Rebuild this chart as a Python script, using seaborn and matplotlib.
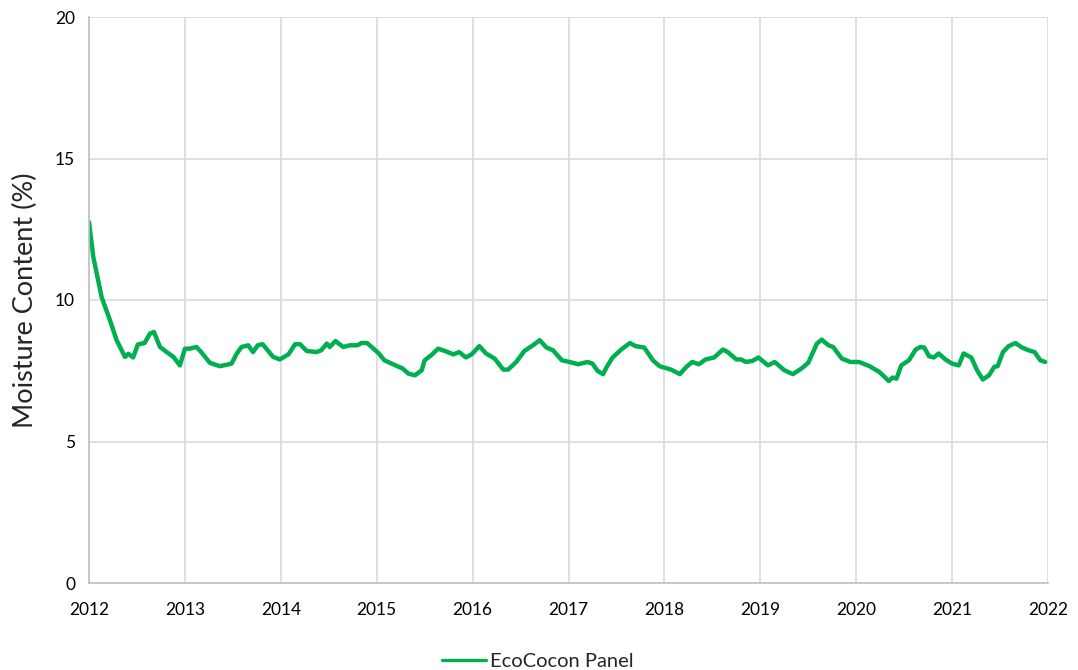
import matplotlib
matplotlib.use("Agg")
import matplotlib.pyplot as plt
import seaborn as sns
import pandas as pd

# Monitoring record of the panel: decimal year and moisture content (%)
years = [2012.000, 2012.045, 2012.132, 2012.219, 2012.288, 2012.375, 2012.410, 2012.460,
         2012.510, 2012.580, 2012.635, 2012.677, 2012.740, 2012.810, 2012.880, 2012.948,
         2013.000, 2013.050, 2013.120, 2013.170, 2013.260, 2013.365, 2013.486, 2013.540,
         2013.590, 2013.660, 2013.710, 2013.760, 2013.810, 2013.920, 2013.990, 2014.080,
         2014.150, 2014.200, 2014.270, 2014.370, 2014.420, 2014.480, 2014.510, 2014.570,
         2014.650, 2014.720, 2014.800, 2014.840, 2014.900, 2014.960, 2015.020, 2015.080,
         2015.170, 2015.270, 2015.330, 2015.400, 2015.470, 2015.500, 2015.570, 2015.640,
         2015.710, 2015.800, 2015.860, 2015.930, 2015.990, 2016.070, 2016.140, 2016.230,
         2016.320, 2016.370, 2016.455, 2016.540, 2016.630, 2016.700, 2016.770, 2016.840,
         2016.930, 2017.010, 2017.100, 2017.200, 2017.250, 2017.305, 2017.360, 2017.400,
         2017.460, 2017.550, 2017.640, 2017.700, 2017.790, 2017.880, 2017.950, 2018.070,
         2018.160, 2018.230, 2018.290, 2018.360, 2018.430, 2018.520, 2018.610, 2018.660,
         2018.750, 2018.800, 2018.850, 2018.920, 2018.980, 2019.080, 2019.150, 2019.250,
         2019.340, 2019.430, 2019.500, 2019.550, 2019.590, 2019.640, 2019.710, 2019.760,
         2019.850, 2019.940, 2020.030, 2020.140, 2020.240, 2020.340, 2020.380, 2020.420,
         2020.470, 2020.550, 2020.620, 2020.670, 2020.710, 2020.760, 2020.810, 2020.860,
         2020.930, 2021.000, 2021.070, 2021.120, 2021.200, 2021.260, 2021.320, 2021.385,
         2021.440, 2021.475, 2021.530, 2021.590, 2021.660, 2021.730, 2021.800, 2021.860,
         2021.920, 2021.970]
moisture = [12.75, 11.52, 10.10, 9.28, 8.58, 7.99, 8.10, 7.97,
            8.43, 8.48, 8.81, 8.87, 8.34, 8.16, 7.99, 7.69,
            8.28, 8.28, 8.34, 8.16, 7.78, 7.66, 7.75, 8.10,
            8.34, 8.40, 8.16, 8.40, 8.44, 7.99, 7.90, 8.08,
            8.44, 8.44, 8.20, 8.16, 8.22, 8.46, 8.34, 8.55,
            8.34, 8.40, 8.40, 8.48, 8.48, 8.30, 8.12, 7.87,
            7.73, 7.58, 7.40, 7.34, 7.52, 7.87, 8.05, 8.28,
            8.20, 8.08, 8.16, 7.97, 8.08, 8.37, 8.11, 7.93,
            7.54, 7.54, 7.81, 8.20, 8.40, 8.58, 8.32, 8.22,
            7.87, 7.81, 7.73, 7.81, 7.75, 7.49, 7.38, 7.64,
            7.97, 8.25, 8.48, 8.37, 8.32, 7.87, 7.66, 7.54,
            7.38, 7.64, 7.81, 7.73, 7.90, 7.97, 8.25, 8.16,
            7.90, 7.90, 7.81, 7.85, 7.97, 7.69, 7.81, 7.52,
            7.38, 7.58, 7.78, 8.16, 8.46, 8.60, 8.40, 8.34,
            7.93, 7.81, 7.81, 7.66, 7.46, 7.14, 7.26, 7.22,
            7.69, 7.87, 8.25, 8.34, 8.32, 8.01, 7.97, 8.11,
            7.90, 7.75, 7.69, 8.11, 7.97, 7.52, 7.19, 7.34,
            7.64, 7.66, 8.16, 8.37, 8.48, 8.32, 8.22, 8.16,
            7.87, 7.81]

series_name = "EcoCocon Panel"
x_ticks = list(range(2012, 2023))
y_ticks = [0, 5, 10, 15, 20]

df = pd.DataFrame({"Year": years, "Moisture": moisture, "Series": series_name})

sns.set_theme(style="white")
plt.rcParams["font.family"] = ["Lato", "DejaVu Sans"]

fig = plt.figure(figsize=(10.78, 6.70), dpi=100)
ax = fig.add_axes([89 / 1078, 1 - 583 / 670, (1048 - 89) / 1078, (583 - 17) / 670])

sns.lineplot(data=df, x="Year", y="Moisture", hue="Series",
             palette=["#00b050"], linewidth=3.2, ax=ax, legend=True)

ax.set_xlim(2012, 2022)
ax.set_ylim(0, 20)
ax.set_xticks(x_ticks)
ax.set_xticklabels([str(t) for t in x_ticks])
ax.set_yticks(y_ticks)
ax.set_yticklabels([str(t) for t in y_ticks])
ax.tick_params(axis="both", length=0, labelsize=12.5, colors="#000000")
ax.tick_params(axis="x", pad=14)
ax.tick_params(axis="y", pad=10)

ax.grid(True, color="#d9d9d9", linewidth=1.2)
ax.set_axisbelow(True)
for side in ["top", "right"]:
    ax.spines[side].set_visible(False)
for side in ["left", "bottom"]:
    ax.spines[side].set_color("#bfbfbf")
    ax.spines[side].set_linewidth(1.2)

ax.set_xlabel("")
ax.set_ylabel("Moisture Content (%)", fontsize=19.5, labelpad=12)

handles, labels = ax.get_legend_handles_labels()
leg = ax.legend(handles, labels, loc="center", bbox_to_anchor=(0.468, -0.139),
                frameon=False, fontsize=14.5, handlelength=2.2, handletextpad=0.2,
                borderpad=0.2)
for line in leg.get_lines():
    line.set_linewidth(2.4)

fig.savefig("out.png", dpi=100)
